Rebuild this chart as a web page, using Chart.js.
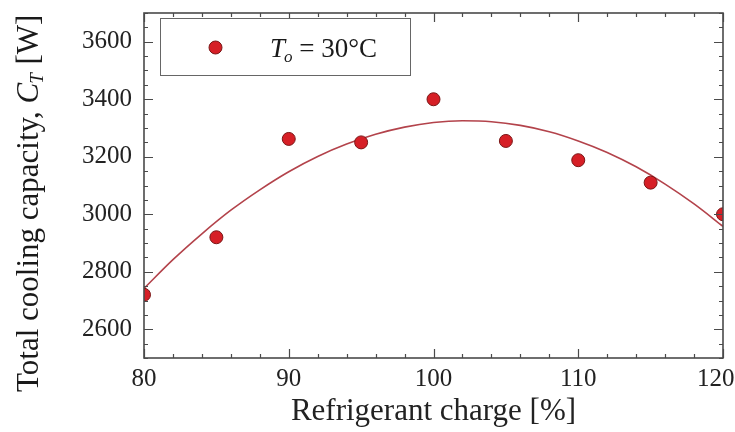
<!DOCTYPE html>
<html><head><meta charset="utf-8">
<script src="https://cdn.jsdelivr.net/npm/chart.js@4.4.1/dist/chart.umd.min.js"></script>
<style>html,body{margin:0;padding:0;background:#fff;}canvas{display:block;}</style>
</head><body>
<canvas id="c" width="735" height="432"></canvas>
<script>
// ---- data ----
const chargePct   = [80, 85, 90, 95, 100, 105, 110, 115, 120];
const capacityW   = [2720, 2920, 3262, 3250, 3400, 3255, 3188, 3110, 3000];
// fitted trend curve
const fitCharge   = [80, 82, 84, 86, 88, 90, 92, 94, 96, 98, 100, 102, 104, 106, 108, 110, 112, 114, 116, 118, 120];
const fitCapacity = [2742, 2842, 2932, 3014, 3085, 3148, 3201, 3244, 3278, 3303, 3319, 3325, 3322, 3309, 3287, 3255, 3215, 3165, 3105, 3036, 2958];
const xTickLabels = [80, 90, 100, 110, 120];
const yTickLabels = [2600, 2800, 3000, 3200, 3400, 3600];
const xRange = [80, 120];
const yRange = [2500, 3700];
const xMinorStep = 2, yMinorStep = 50;
const xTitle = 'Refrigerant charge [%]';
const yTitleParts = ['Total cooling capacity, ', 'C', 'T', ' [W]'];
const legendParts = ['T', 'o', ' = 30°C'];

const SERIF = '"Liberation Serif", "Times New Roman", serif';

const decor = {
  id: 'decor',
  afterDatasetsDraw(chart) {
    const {ctx, chartArea: a, scales: {x, y}} = chart;
    ctx.save();
    ctx.strokeStyle = '#4a4a4a';
    ctx.lineWidth = 1.2;
    ctx.beginPath();
    for (let v = xRange[0]; v <= xRange[1] + 1e-9; v += xMinorStep) {
      const px = Math.round(x.getPixelForValue(v)) + 0.5;
      const len = xTickLabels.includes(v) ? 9 : 4;
      ctx.moveTo(px, a.bottom); ctx.lineTo(px, a.bottom - len);
      ctx.moveTo(px, a.top); ctx.lineTo(px, a.top + len);
    }
    for (let v = yRange[0]; v <= yRange[1] + 1e-9; v += yMinorStep) {
      const py = Math.round(y.getPixelForValue(v)) + 0.5;
      const len = yTickLabels.includes(v) ? 9 : 4;
      ctx.moveTo(a.left, py); ctx.lineTo(a.left + len, py);
      ctx.moveTo(a.right, py); ctx.lineTo(a.right - len, py);
    }
    ctx.stroke();
    ctx.lineWidth = 1.6;
    ctx.strokeRect(a.left, a.top, a.right - a.left, a.bottom - a.top);

    // legend box
    ctx.lineWidth = 1;
    ctx.strokeStyle = '#666';
    ctx.fillStyle = '#fff';
    ctx.fillRect(160.5, 18.5, 250, 57);
    ctx.strokeRect(160.5, 18.5, 250, 57);
    ctx.beginPath();
    ctx.arc(215.5, 47.5, 6.5, 0, Math.PI * 2);
    ctx.fillStyle = '#d61f26';
    ctx.fill();
    ctx.strokeStyle = '#7a1616';
    ctx.stroke();
    ctx.fillStyle = '#1a1a1a';
    ctx.textBaseline = 'alphabetic';
    ctx.textAlign = 'left';
    let lx = 270;
    ctx.font = 'italic 27px ' + SERIF;
    ctx.fillText(legendParts[0], lx, 57); lx += ctx.measureText(legendParts[0]).width;
    ctx.font = 'italic 17px ' + SERIF;
    ctx.fillText(legendParts[1], lx - 1, 62); lx += ctx.measureText(legendParts[1]).width - 1;
    ctx.font = '27px ' + SERIF;
    ctx.fillText(legendParts[2], lx, 57);

    // y title
    ctx.translate(38, 392);
    ctx.rotate(-Math.PI / 2);
    let tx = 0;
    ctx.font = '31px ' + SERIF;
    ctx.fillText(yTitleParts[0], tx, 0); tx += ctx.measureText(yTitleParts[0]).width;
    ctx.font = 'italic 31px ' + SERIF;
    ctx.fillText(yTitleParts[1], tx, 0); tx += ctx.measureText(yTitleParts[1]).width;
    ctx.font = 'italic 19px ' + SERIF;
    ctx.fillText(yTitleParts[2], tx - 1, 5); tx += ctx.measureText(yTitleParts[2]).width;
    ctx.font = '31px ' + SERIF;
    ctx.fillText(yTitleParts[3], tx, 0);
    ctx.restore();
  }
};

new Chart(document.getElementById('c'), {
  type: 'scatter',
  data: {
    datasets: [
      {
        data: chargePct.map((v, i) => ({x: v, y: capacityW[i]})),
        pointRadius: 6.5,
        pointHoverRadius: 6.5,
        backgroundColor: '#d61f26',
        borderColor: '#7a1616',
        borderWidth: 1,
        clip: 0
      },
      {
        data: fitCharge.map((v, i) => ({x: v, y: fitCapacity[i]})),
        showLine: true,
        pointRadius: 0,
        borderColor: '#b3434b',
        borderWidth: 1.6,
        cubicInterpolationMode: 'monotone',
        clip: 0
      }
    ]
  },
  options: {
    responsive: false,
    animation: false,
    events: [],
    layout: {padding: {left: 0, right: 12, top: 13, bottom: 0}},
    plugins: {legend: {display: false}, tooltip: {enabled: false}},
    scales: {
      x: {
        type: 'linear', min: xRange[0], max: xRange[1],
        afterBuildTicks: s => { s.ticks = xTickLabels.map(v => ({value: v})); },
        afterFit: s => { s.height = 74; s.paddingLeft = 0; s.paddingRight = 0; },
        grid: {display: false, drawTicks: false},
        border: {display: false},
        ticks: {
          font: {family: SERIF, size: 25}, color: '#222', padding: 6, maxRotation: 0, autoSkip: false,
          callback: v => String(v) + (v === xRange[1] ? '\u2002\u200A' : '')
        },
        title: {display: true, text: xTitle, font: {family: SERIF, size: 31}, color: '#222', padding: {top: 0, bottom: 2}}
      },
      y: {
        type: 'linear', min: yRange[0], max: yRange[1],
        afterBuildTicks: s => { s.ticks = yTickLabels.map(v => ({value: v})); },
        afterFit: s => { s.width = 144; s.paddingTop = 0; s.paddingBottom = 0; },
        grid: {display: false, drawTicks: false},
        border: {display: false},
        ticks: {font: {family: SERIF, size: 25}, color: '#222', padding: 12, autoSkip: false, callback: v => String(v)}
      }
    }
  },
  plugins: [decor]
});
</script>
</body></html>
